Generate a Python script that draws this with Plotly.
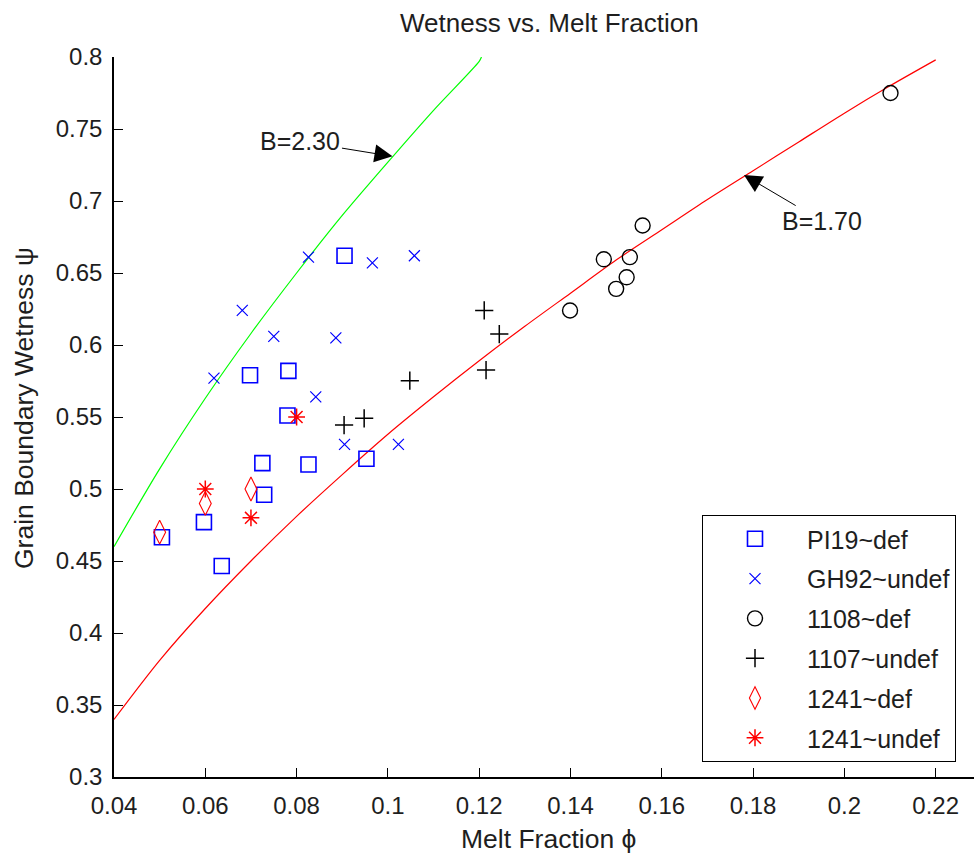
import plotly.graph_objects as go

# Melt fraction (phi) and grain boundary wetness (psi) for each sample set
pi19_phi = [0.0905, 0.0698, 0.0782, 0.0780, 0.0725, 0.0826, 0.0729, 0.0953, 0.0597, 0.0505, 0.0636]
pi19_psi = [0.662, 0.579, 0.582, 0.551, 0.518, 0.517, 0.496, 0.521, 0.477, 0.4665, 0.4465]

gh92_phi = [0.0826, 0.0966, 0.1058, 0.0681, 0.0750, 0.0886, 0.0619, 0.0842, 0.0905, 0.1023]
gh92_psi = [0.661, 0.657, 0.662, 0.624, 0.606, 0.605, 0.577, 0.564, 0.531, 0.531]

s1108_phi = [0.2101, 0.1558, 0.1473, 0.1530, 0.1523, 0.1500, 0.1399]
s1108_psi = [0.775, 0.683, 0.6595, 0.661, 0.647, 0.639, 0.624]

s1107_phi = [0.1211, 0.1244, 0.1215, 0.1048, 0.0948, 0.0904]
s1107_psi = [0.624, 0.6076, 0.5826, 0.5752, 0.5491, 0.5444]

s1241d_phi = [0.05, 0.06, 0.07]
s1241d_psi = [0.47, 0.49, 0.50]

s1241u_phi = [0.06, 0.07, 0.08]
s1241u_psi = [0.50, 0.48, 0.55]

# Model curves (B = 2.30 and B = 1.70)
curve_b230_phi = [0.04, 0.05, 0.06, 0.07, 0.08, 0.09, 0.10, 0.11, 0.12, 0.1205]
curve_b230_psi = [0.460, 0.514, 0.563, 0.608, 0.650, 0.690, 0.727, 0.763, 0.797, 0.800]

curve_b170_phi = [0.04, 0.05, 0.06, 0.07, 0.08, 0.09, 0.10, 0.11, 0.12, 0.13,
                  0.14, 0.15, 0.16, 0.17, 0.18, 0.19, 0.20, 0.21, 0.22]
curve_b170_psi = [0.340, 0.381, 0.417, 0.450, 0.481, 0.510, 0.538, 0.564, 0.589, 0.613,
                  0.636, 0.659, 0.680, 0.701, 0.721, 0.741, 0.761, 0.780, 0.798]

x_ticks = [0.04, 0.06, 0.08, 0.10, 0.12, 0.14, 0.16, 0.18, 0.20, 0.22]
x_tick_text = ["0.04", "0.06", "0.08", "0.1", "0.12", "0.14", "0.16", "0.18", "0.2", "0.22"]
y_ticks = [0.3, 0.35, 0.4, 0.45, 0.5, 0.55, 0.6, 0.65, 0.7, 0.75, 0.8]
y_tick_text = ["0.3", "0.35", "0.4", "0.45", "0.5", "0.55", "0.6", "0.65", "0.7", "0.75", "0.8"]

FONT = "Liberation Sans, Arial, sans-serif"
TXT = "#1e1e1e"

W, H = 974, 858
L, R, T, B = 114, 0, 57, 81
PX_PER_UNIT_X = 4565.0  # horizontal pixels per unit of melt fraction

fig = go.Figure()

fig.add_trace(go.Scatter(x=curve_b230_phi, y=curve_b230_psi, mode="lines",
                         line=dict(color="#00ff00", width=1.2, shape="spline", smoothing=0.8),
                         showlegend=False, hoverinfo="skip"))
fig.add_trace(go.Scatter(x=curve_b170_phi, y=curve_b170_psi, mode="lines",
                         line=dict(color="#ff0000", width=1.2, shape="spline", smoothing=0.8),
                         showlegend=False, hoverinfo="skip"))

series = [
    ("PI19~def", pi19_phi, pi19_psi, "square-open", 15, "#0000ff", 1.6),
    ("GH92~undef", gh92_phi, gh92_psi, "x-thin-open", 11, "#0000ff", 1.2),
    ("1108~def", s1108_phi, s1108_psi, "circle-open", 15, "#000000", 1.4),
    ("1107~undef", s1107_phi, s1107_psi, "cross-thin-open", 13, "#000000", 1.5),
    ("1241~def", s1241d_phi, s1241d_psi, "diamond-tall-open", 17, "#ff0000", 1.1),
    ("1241~undef", s1241u_phi, s1241u_psi, "asterisk-open", 14, "#ff0000", 1.5),
]
for i, (name, xs, ys, sym, size, col, lw) in enumerate(series):
    fig.add_trace(go.Scatter(
        x=xs, y=ys, mode="markers", name=name, legendgroup=f"g{i}",
        marker=dict(symbol=sym, size=size, color=col, line=dict(color=col, width=lw)),
    ))

axis_common = dict(
    showgrid=False, zeroline=False, showline=True, linecolor="#000000", linewidth=1.5,
    ticks="inside", ticklen=9, tickwidth=1.3, tickcolor="#000000", mirror=False,
    tickfont=dict(family=FONT, size=24, color=TXT),
)

pw = W - L - R
ph = H - T - B

def px_x(p):
    return (p - L) / pw

def px_y(p):
    return (H - B - p) / ph

fig.update_layout(
    width=W, height=H,
    margin=dict(l=L, r=R, t=T, b=B, pad=0),
    paper_bgcolor="#ffffff", plot_bgcolor="#ffffff",
    font=dict(family=FONT, size=24, color=TXT),
    xaxis=dict(range=[0.04, 0.04 + pw / PX_PER_UNIT_X], tickvals=x_ticks, ticktext=x_tick_text,
               ticklabelstandoff=6, **axis_common),
    yaxis=dict(range=[0.3, 0.8], tickvals=y_ticks, ticktext=y_tick_text,
               ticklabelstandoff=5, **axis_common),
    legend=dict(
        x=px_x(702), y=px_y(515), xanchor="left", yanchor="top",
        bgcolor="#ffffff", bordercolor="#000000", borderwidth=1,
        font=dict(family=FONT, size=25, color=TXT),
        tracegroupgap=4.3, itemwidth=94,
    ),
    showlegend=True,
)

arrow_style = dict(showarrow=True, arrowhead=2, arrowsize=3.6, arrowwidth=1.0,
                   arrowcolor="#000000", axref="pixel", ayref="pixel")

annotations = [
    dict(text="Wetness vs. Melt Fraction", xref="paper", yref="paper",
         x=px_x(549), y=px_y(23), xanchor="center", yanchor="middle",
         showarrow=False, font=dict(family=FONT, size=26, color=TXT)),
    dict(text="Melt Fraction \u03d5", xref="paper", yref="paper",
         x=px_x(548), y=px_y(839), xanchor="center", yanchor="middle",
         showarrow=False, font=dict(family=FONT, size=26.5, color=TXT)),
    dict(text="Grain Boundary Wetness \u03c8", xref="paper", yref="paper",
         x=px_x(24), y=px_y(408), xanchor="center", yanchor="middle", textangle=-90,
         showarrow=False, font=dict(family=FONT, size=26.5, color=TXT)),
    dict(text="B=2.30", x=0.101, y=0.731, xref="x", yref="y", ax=-92, ay=-15,
         font=dict(family=FONT, size=25, color=TXT), **arrow_style),
    dict(text="B=1.70", x=0.178, y=0.718, xref="x", yref="y", ax=78, ay=46,
         font=dict(family=FONT, size=25, color=TXT), **arrow_style),
]
fig.update_layout(annotations=annotations)

fig.write_html("out.html")
